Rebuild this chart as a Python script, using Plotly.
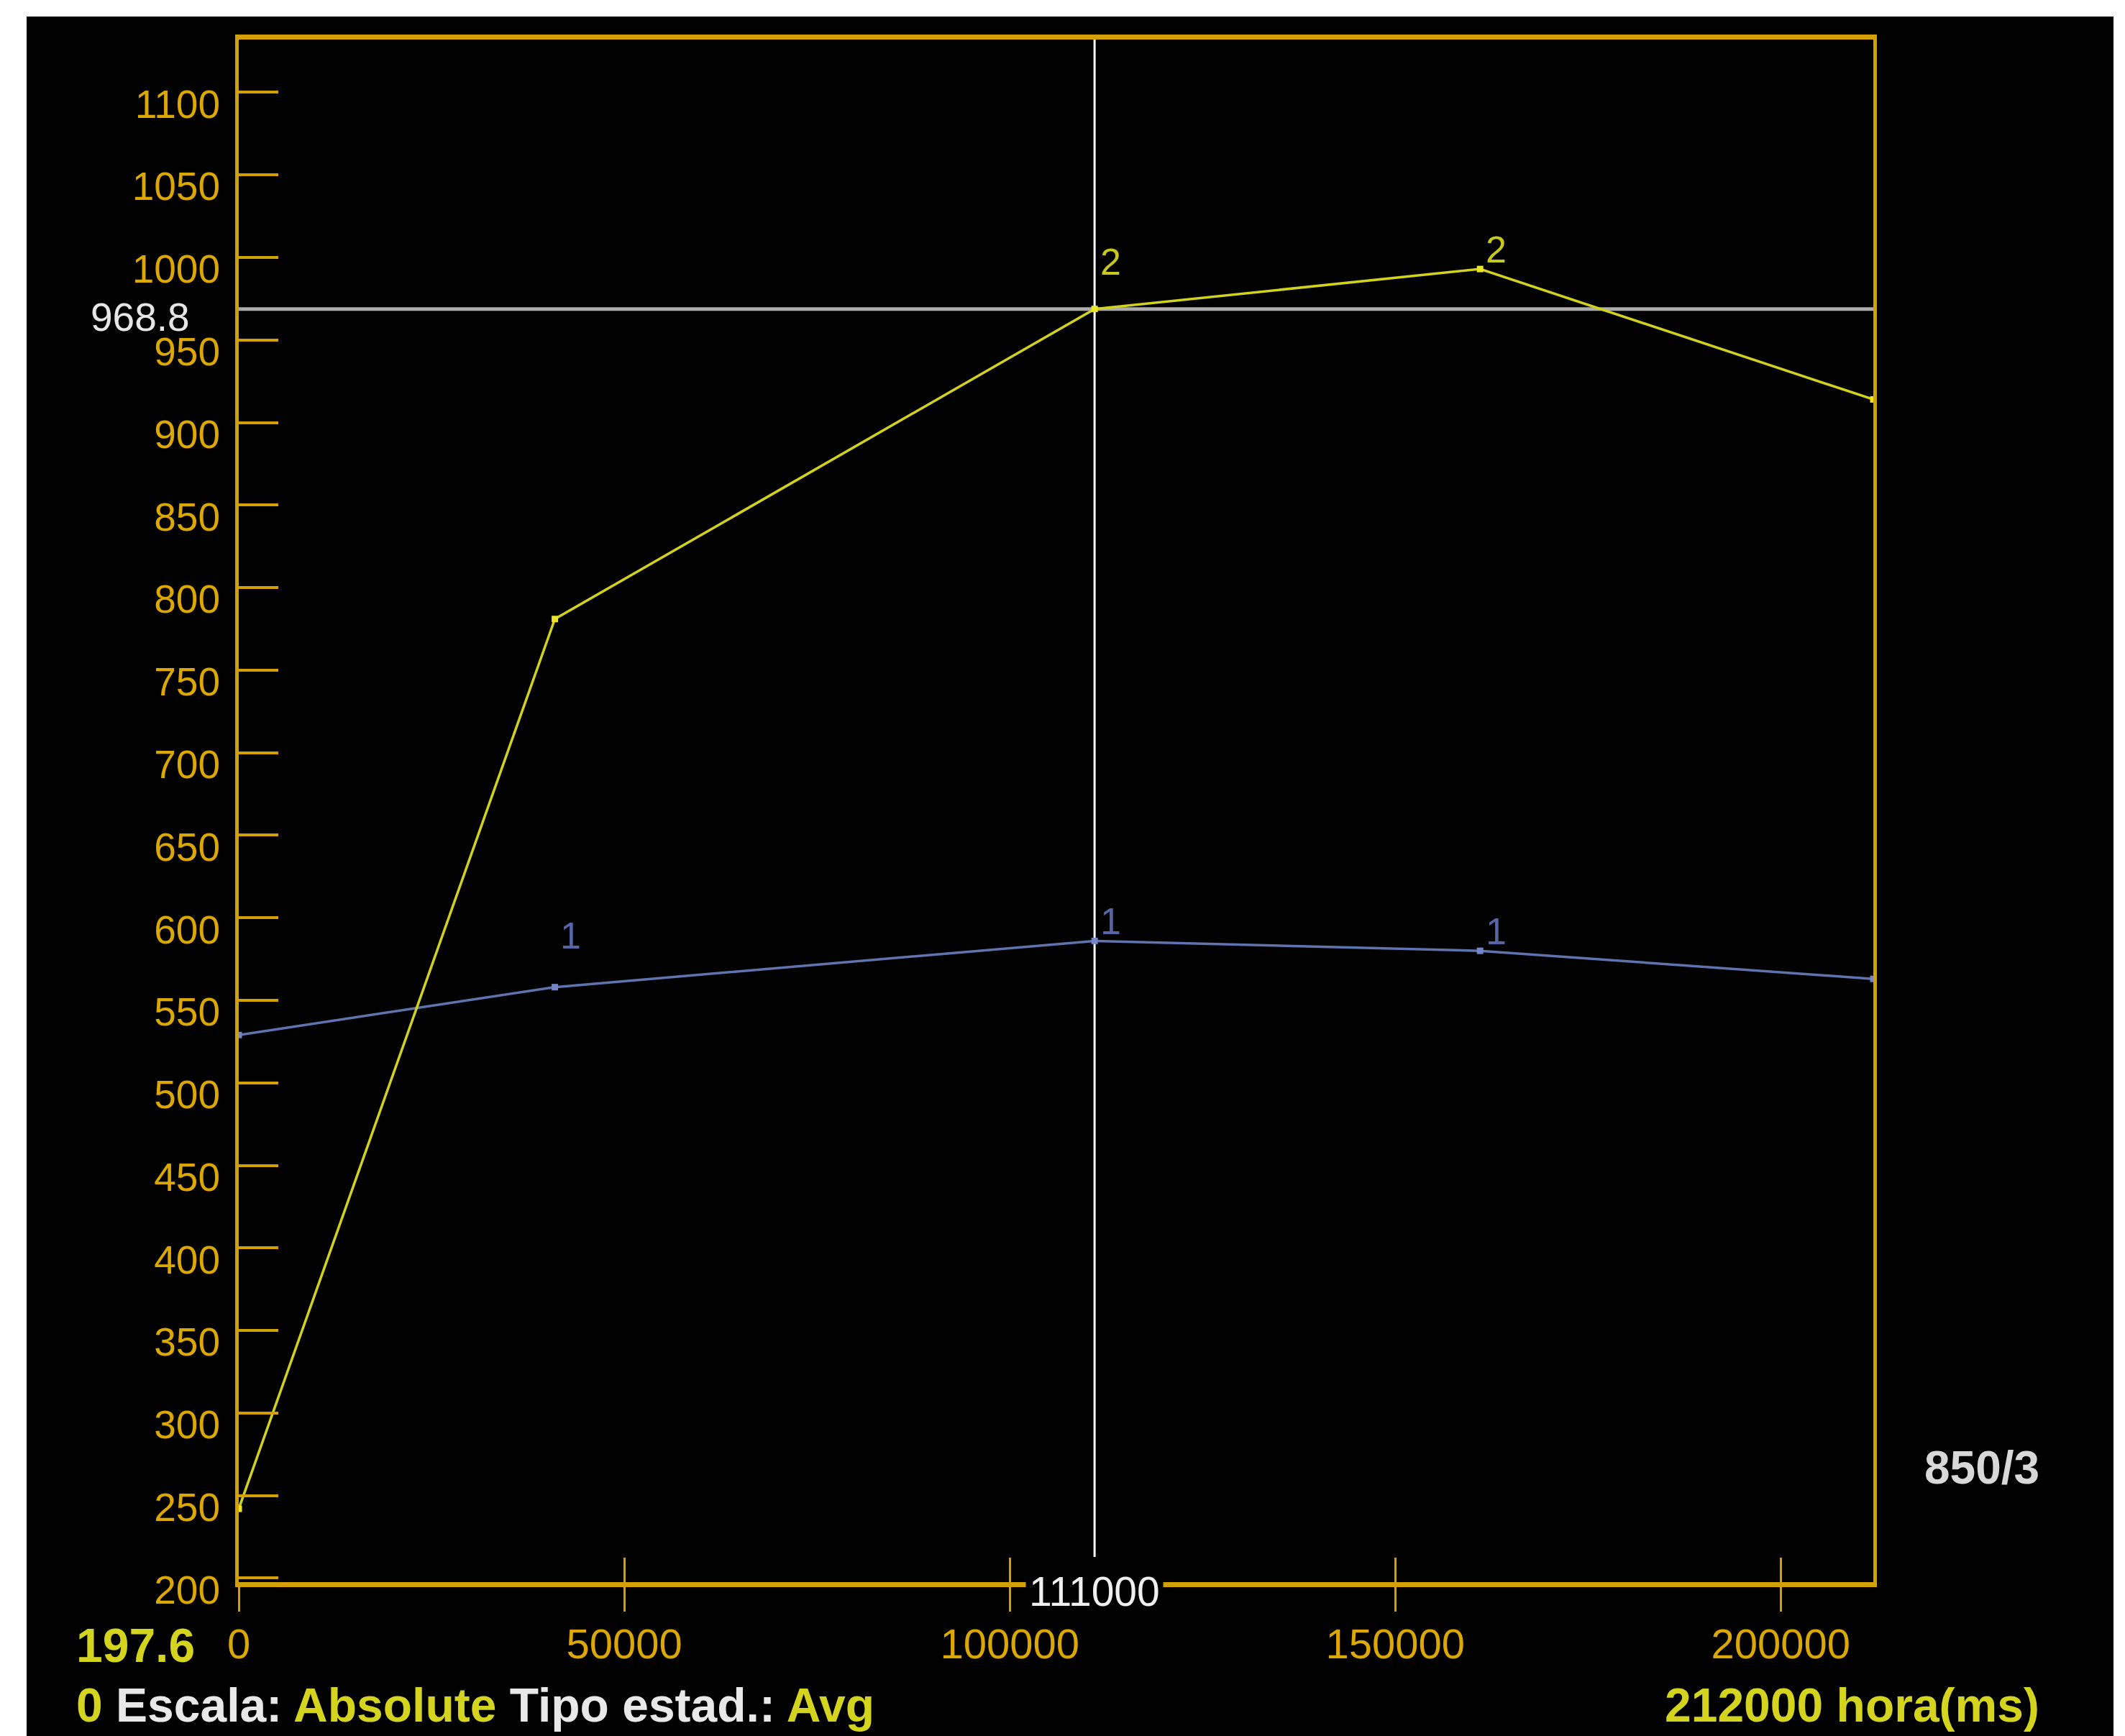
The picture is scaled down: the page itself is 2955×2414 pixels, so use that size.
import plotly.graph_objects as go

# ---------------- data ----------------
x_ms = [0, 41000, 111000, 161000, 212000]
serie1 = [529.0, 558.0, 586.0, 580.0, 563.0]
serie2 = [242.0, 781.0, 968.8, 993.0, 914.0]
labels1 = ["", "1", "1", "1", ""]
labels2 = ["", "", "2", "2", ""]

cursor_x = 111000
cursor_y = 968.8
y_min = 197.6
y_max = 1132.0
x_max = 212000
y_ticks = list(range(200, 1101, 50))
x_ticks = [0, 50000, 100000, 150000, 200000]
scale_note = "850/3"

# ---------------- styles ----------------
GOLD = "#d4a000"
GOLD_TXT = "#dca800"
YEL = "#d2d21e"
YEL_TXT = "#d4d41e"
BLUE = "#5f73af"
FONT = "Liberation Sans, Arial, sans-serif"

W, H = 2955, 2414
L, R, T, B = 332, 350, 55, 214
PW, PH = W - L - R, H - T - B


def xp(px):
    return (px - L) / PW


def yp(py):
    return (T + PH - py) / PH


fig = go.Figure()

fig.add_trace(go.Scatter(
    x=x_ms, y=serie1, mode="lines+markers",
    line=dict(color=BLUE, width=3.5),
    marker=dict(symbol="square", size=9, color="#7585c5"),
    hoverinfo="skip", showlegend=False))
fig.add_trace(go.Scatter(
    x=x_ms, y=serie2, mode="lines+markers",
    line=dict(color=YEL, width=3.5),
    marker=dict(symbol="square", size=9, color="#ece424"),
    hoverinfo="skip", showlegend=False))
# helper trace so the overlay x-axis (inner half of crossing ticks) is drawn
fig.add_trace(go.Scatter(x=[x_ms[0]], y=[None], xaxis="x2", mode="markers",
                         hoverinfo="skip", showlegend=False))

annotations = []
# point labels (label offset in px above the point; some labels sit higher)
yshift1 = {41000: 72}
yshift2 = {111000: 66}
for xv, yv, t in zip(x_ms, serie1, labels1):
    if t:
        annotations.append(dict(x=xv, y=yv, text=t, showarrow=False, xshift=22,
                                yshift=yshift1.get(xv, 27),
                                font=dict(family=FONT, size=52, color="#5565a8")))
for xv, yv, t in zip(x_ms, serie2, labels2):
    if t:
        annotations.append(dict(x=xv, y=yv, text=t, showarrow=False, xshift=22,
                                yshift=yshift2.get(xv, 27),
                                font=dict(family=FONT, size=52, color="#c8c81a")))

# cursor values
annotations.append(dict(xref="paper", yref="paper", x=xp(266), y=yp(441), xanchor="right",
                        yanchor="middle", text=f"{cursor_y:g}", showarrow=False,
                        font=dict(family=FONT, size=55, color="#e6e6e6")))
annotations.append(dict(xref="x", yref="paper", x=cursor_x, y=yp(2213), xanchor="center",
                        yanchor="middle", text=f"{cursor_x}", showarrow=False,
                        bgcolor="black", borderpad=4,
                        font=dict(family=FONT, size=57, color="#f0f0f0")))
annotations.append(dict(xref="paper", yref="paper", x=xp(2838), y=yp(2041), xanchor="right",
                        yanchor="middle", text=f"<b>{scale_note}</b>", showarrow=False,
                        font=dict(family=FONT, size=64, color="#d8d8d8")))
annotations.append(dict(xref="paper", yref="paper", x=xp(104), y=yp(2288), xanchor="left",
                        yanchor="middle", text=f"<b>{y_min}</b>", showarrow=False,
                        font=dict(family=FONT, size=66, color=YEL_TXT)))
annotations.append(dict(xref="paper", yref="paper", x=xp(104), y=yp(2371), xanchor="left",
                        yanchor="middle",
                        text=("<b>0 <span style='color:#e8e8e8'>Escala:</span> Absolute "
                              "<span style='color:#e8e8e8'>Tipo estad.:</span> Avg</b>"),
                        showarrow=False,
                        font=dict(family=FONT, size=66, color=YEL_TXT)))
annotations.append(dict(xref="paper", yref="paper", x=xp(2838), y=yp(2371), xanchor="right",
                        yanchor="middle", text=f"<b>{x_max} hora(ms)</b>", showarrow=False,
                        font=dict(family=FONT, size=66, color=YEL_TXT)))

shapes = [
    # black panel
    dict(type="rect", xref="paper", yref="paper", x0=xp(37), x1=xp(2939), y0=yp(H + 5), y1=yp(23),
         fillcolor="black", line=dict(width=0), layer="below"),
    # horizontal cursor
    dict(type="line", xref="x", yref="y", x0=0, x1=x_max, y0=cursor_y, y1=cursor_y,
         line=dict(color="#ababab", width=5), layer="below"),
    # vertical cursor
    dict(type="line", xref="x", yref="paper", x0=cursor_x, x1=cursor_x, y0=yp(2165), y1=1,
         line=dict(color="white", width=3), layer="below"),
]

fig.update_layout(
    width=W, height=H,
    margin=dict(l=L, r=R, t=T, b=B, pad=0),
    paper_bgcolor="white", plot_bgcolor="black",
    font=dict(family=FONT),
    showlegend=False,
    annotations=annotations,
    shapes=shapes,
    xaxis=dict(range=[0, x_max], tickmode="array", tickvals=x_ticks,
               ticktext=[str(v) for v in x_ticks],
               ticks="outside", ticklen=34, tickwidth=3, tickcolor=GOLD,
               showline=True, linecolor=GOLD, linewidth=7, mirror=True,
               showgrid=False, zeroline=False,
               tickfont=dict(family=FONT, size=58, color=GOLD_TXT),
               ticklabelstandoff=-5),
    xaxis2=dict(range=[0, x_max], overlaying="x", anchor="y", side="bottom",
                tickmode="array", tickvals=x_ticks,
                ticks="inside", ticklen=34, tickwidth=3, tickcolor=GOLD,
                showticklabels=False, showline=False, showgrid=False, zeroline=False),
    yaxis=dict(range=[y_min, y_max], tickmode="array", tickvals=y_ticks,
               ticktext=[str(v) for v in y_ticks],
               ticks="inside", ticklen=55, tickwidth=4, tickcolor=GOLD,
               showline=True, linecolor=GOLD, linewidth=5, mirror=True,
               showgrid=False, zeroline=False,
               tickfont=dict(family=FONT, size=55, color=GOLD_TXT),
               ticklabelstandoff=10, ticklabelshift=16),
)

fig.write_html("out.html", post_script="document.body.style.margin='0';",
               config={"displayModeBar": False})
